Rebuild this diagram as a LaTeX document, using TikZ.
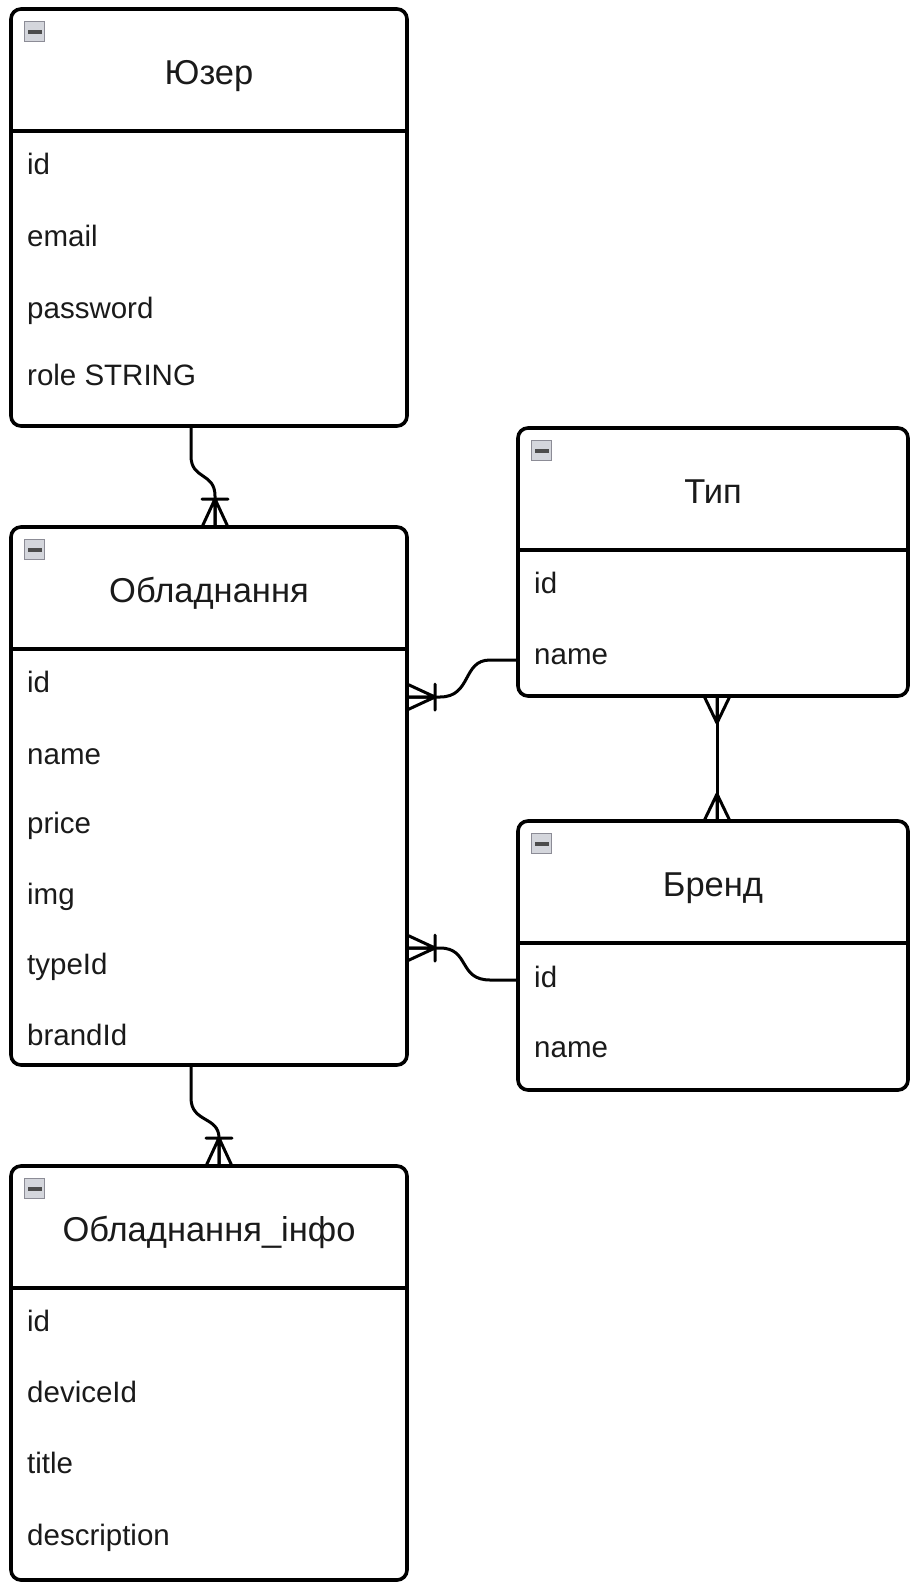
\documentclass[tikz,border=0pt]{standalone}
\usepackage{fontspec}
\setmainfont{Liberation Sans}
\usepackage{xcolor}
\definecolor{cLine}{HTML}{000000}
\definecolor{cText}{HTML}{1A1A1A}
\definecolor{cIcon}{HTML}{8C8C96}
\definecolor{cIconFill}{HTML}{D4D6DC}
\usepackage{tikz}
\usetikzlibrary{positioning,calc}
\tikzset{
  table-box/.style={draw=cLine,line width=3.6pt,rounded corners=10pt,
    fill=white,inner sep=0pt,outer sep=0pt},
  table-title/.style={text=cText,inner sep=0pt,text height=25pt,text depth=0pt,
    font=\fontsize{34.5}{40}\selectfont},
  row-text/.style={anchor=west,text=cText,inner sep=0pt,text height=21pt,
    text depth=0pt,font=\fontsize{29.5}{35}\selectfont},
  divider/.style={draw=cLine,line width=3.6pt},
  fold-icon/.style={draw=cIcon,fill=cIconFill,line width=1.3pt,minimum size=20pt,
    inner sep=0pt,path picture={
      \fill[black!70] ([xshift=3pt,yshift=-2pt]path picture bounding box.west)
        rectangle ([xshift=-3pt,yshift=2pt]path picture bounding box.east);}},
  rel-line/.style={draw=cLine,line width=3pt,line cap=round,line join=round},
  many/.pic={\draw[rel-line] (0pt,13pt) -- (27pt,0pt) -- (0pt,-13pt)
    (0pt,0pt) -- (27pt,0pt);},
  one-many/.pic={\draw[rel-line] (0pt,13pt) -- (28pt,0pt) -- (0pt,-13pt)
    (0pt,0pt) -- (28pt,0pt) (28pt,13pt) -- (28pt,-13pt);},
}

\begin{document}
\begin{tikzpicture}[x=1pt,y=-1pt]
  \useasboundingbox (0,0) rectangle (910,1582);

  % tables
  \node[table-box,minimum width=396pt,minimum height=417pt] (user)   at (209,217.5) {};
  \node[table-box,minimum width=390pt,minimum height=268pt] (type)   at (713,562) {};
  \node[table-box,minimum width=396pt,minimum height=538pt] (device) at (209,796) {};
  \node[table-box,minimum width=390pt,minimum height=269pt] (brand)  at (713,955.5) {};
  \node[table-box,minimum width=396pt,minimum height=414pt] (info)   at (209,1373) {};

  \foreach \t/\name in {user/Юзер,type/Тип,device/Обладнання,brand/Бренд,info/Обладнання\_інфо} {
    \draw[divider] ([yshift=-122pt]\t.north west) -- ([yshift=-122pt]\t.north east);
    \node[table-title] (\t-title) at ([yshift=-63pt]\t.north) {\name};
    \node[fold-icon] (\t-icon) at ([xshift=23.5pt,yshift=-22.5pt]\t.north west) {};
  }

  % rows
  \foreach \y/\t [count=\i] in {164/id,236/email,308/password,375/role STRING}
    \node[row-text] (user-row\i) at (27,\y) {\t};
  \foreach \y/\t [count=\i] in {583/id,654/name}
    \node[row-text] (type-row\i) at (534,\y) {\t};
  \foreach \y/\t [count=\i] in {682/id,754/name,823/price,894/img,964/typeId,1035/brandId}
    \node[row-text] (device-row\i) at (27,\y) {\t};
  \foreach \y/\t [count=\i] in {977/id,1047/name}
    \node[row-text] (brand-row\i) at (534,\y) {\t};
  \foreach \y/\t [count=\i] in {1321/id,1392/deviceId,1463/title,1535/description}
    \node[row-text] (info-row\i) at (27,\y) {\t};

  % relations
  \draw[rel-line] ([xshift=-18pt]user.south) -- ++(0,30)
    .. controls +(0,24) and +(0,-24) .. ++(24,40) -- ([xshift=6pt]device.north);
  \pic[rotate=90] at ([xshift=6pt]device.north) {one-many};

  \draw[rel-line] ([yshift=-98pt]type.west) -- ++(-28,0)
    .. controls +(-28,0) and +(32,0) .. ++(-50,37) -- ([yshift=99pt]device.east);
  \pic at ([yshift=99pt]device.east) {one-many};

  \draw[rel-line] ([xshift=4pt]type.south) -- ([xshift=4pt]brand.north);
  \pic[rotate=-90] at ([xshift=4pt]type.south) {many};
  \pic[rotate=90] at ([xshift=4pt]brand.north) {many};

  \draw[rel-line] ([yshift=-24.5pt]brand.west) -- ++(-28,0)
    .. controls +(-32,0) and +(30,0) .. ++(-50,-32) -- ([yshift=-152pt]device.east);
  \pic at ([yshift=-152pt]device.east) {one-many};

  \draw[rel-line] ([xshift=-18pt]device.south) -- ++(0,33)
    .. controls +(0,25) and +(0,-22) .. ++(28,40) -- ([xshift=10pt]info.north);
  \pic[rotate=90] at ([xshift=10pt]info.north) {one-many};
\end{tikzpicture}
\end{document}
